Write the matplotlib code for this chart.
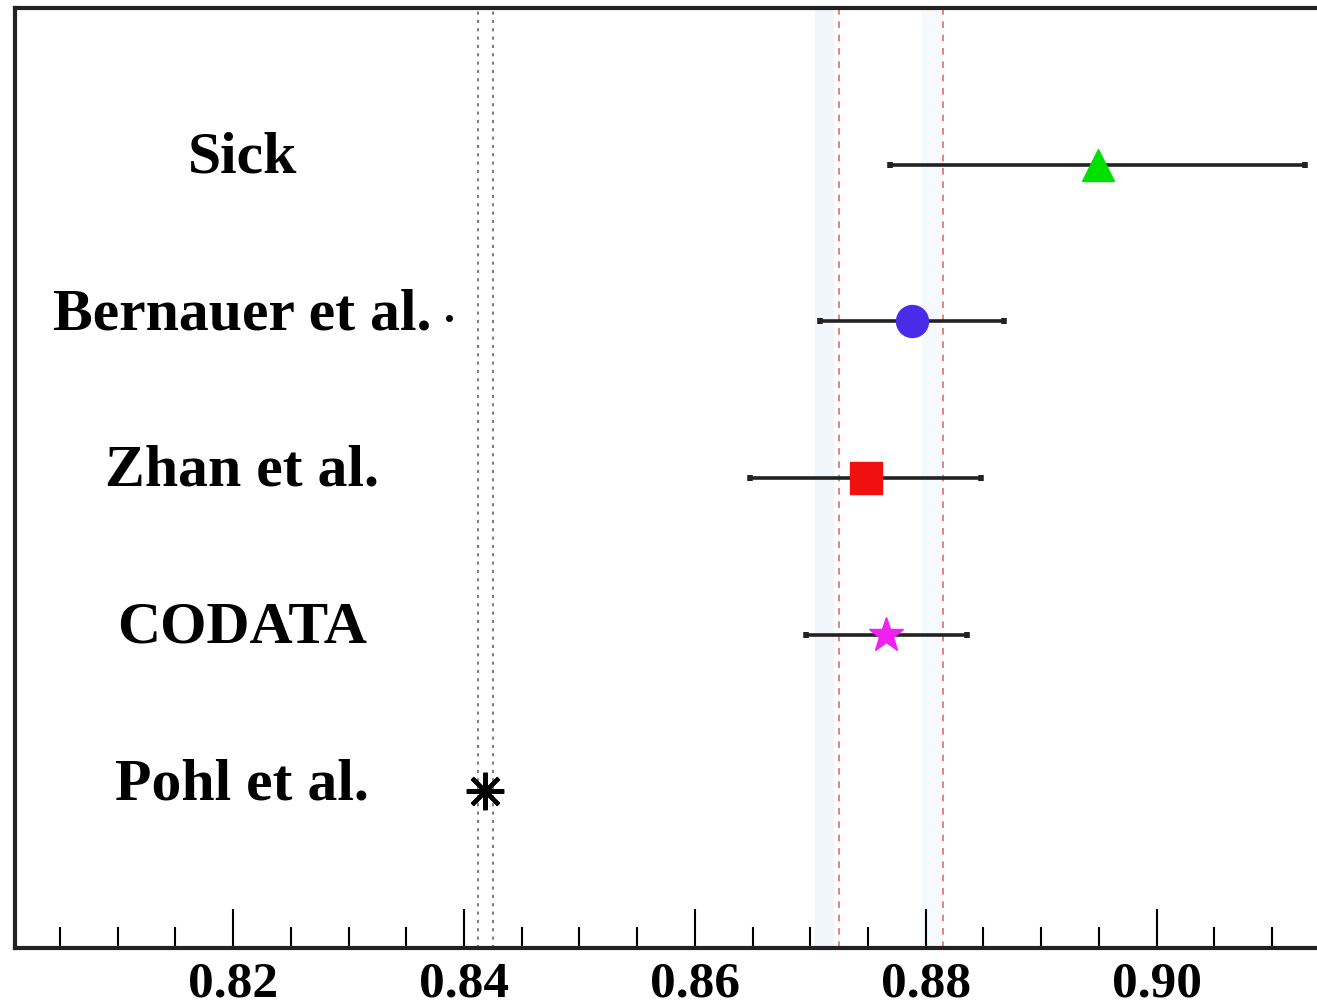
import matplotlib
matplotlib.use('Agg')
import matplotlib.pyplot as plt
from matplotlib.ticker import MultipleLocator, FormatStrFormatter

# proton charge radius measurements (fm)
labels = ['Sick', 'Bernauer et al.', 'Zhan et al.', 'CODATA', 'Pohl et al.']
radius = [0.8949, 0.8788, 0.8748, 0.8766, 0.8418]
err_lo = [0.0180, 0.0080, 0.0100, 0.0070, 0.0]
err_hi = [0.0180, 0.0080, 0.0100, 0.0070, 0.0]
rows = [5, 4, 3, 2, 1]
markers = ['^', 'o', 's', '*', (8, 2, 0)]
colors = ['#00e000', '#4a2be8', '#f01010', '#f020f0', 'black']
sizes = [23, 23, 23, 26, 27]

pohl_band = [0.84117, 0.84251]
avg_band = [0.8725, 0.8815]

plt.rcParams['font.family'] = ['Liberation Serif', 'DejaVu Serif']
plt.rcParams['font.weight'] = 'bold'

fig = plt.figure(figsize=(13.17, 10.08), dpi=100)
ax = fig.add_axes([0.0114, 0.0595, 0.9886, 0.9325])

# faint blue bands and reference lines
ax.axvspan(0.8704, 0.8720, color='#f1f6fd', zorder=0)
ax.axvspan(0.8797, 0.8812, color='#f6f9fe', zorder=0)
for xv in avg_band:
    ax.axvline(xv, color='#e86a6a', ls=(0, (4, 4)), lw=1.2, zorder=1)
for xv in pohl_band:
    ax.axvline(xv, color='#808080', ls=(0, (1.5, 2.5)), lw=1.5, zorder=1)

for i in range(len(labels)):
    if err_lo[i] > 0:
        ax.errorbar(radius[i], rows[i], xerr=[[err_lo[i]], [err_hi[i]]], fmt='none',
                    ecolor='#222222', elinewidth=2.6, capsize=2, capthick=4, zorder=2)
    ax.plot(radius[i], rows[i], marker=markers[i], color=colors[i], ms=sizes[i],
            mec=colors[i], mew=3 if i == 4 else 1, ls='none', zorder=3)
    ax.text(0.8208, rows[i] + 0.04, labels[i], ha='center', va='center',
            fontsize=43, fontweight='bold')

# stray dot next to Bernauer label
ax.plot([0.8387], [4.02], 'o', color='black', ms=4)

ax.set_xlim(0.8011, 0.9139)
ax.set_ylim(0, 6)
ax.xaxis.set_major_locator(MultipleLocator(0.02))
ax.xaxis.set_minor_locator(MultipleLocator(0.005))
ax.xaxis.set_major_formatter(FormatStrFormatter('%.2f'))
ax.tick_params(axis='x', which='major', direction='in', length=28, width=1.5,
               labelsize=37, pad=10, top=False)
ax.tick_params(axis='x', which='minor', direction='in', length=15, width=1.5, top=False)
ax.set_yticks([])
for lbl in ax.get_xticklabels():
    lbl.set_fontweight('bold')
for s in ['left', 'bottom', 'top']:
    ax.spines[s].set_linewidth(3)
    ax.spines[s].set_color('#222222')
ax.spines['right'].set_visible(False)

fig.savefig('out.png', dpi=100)
